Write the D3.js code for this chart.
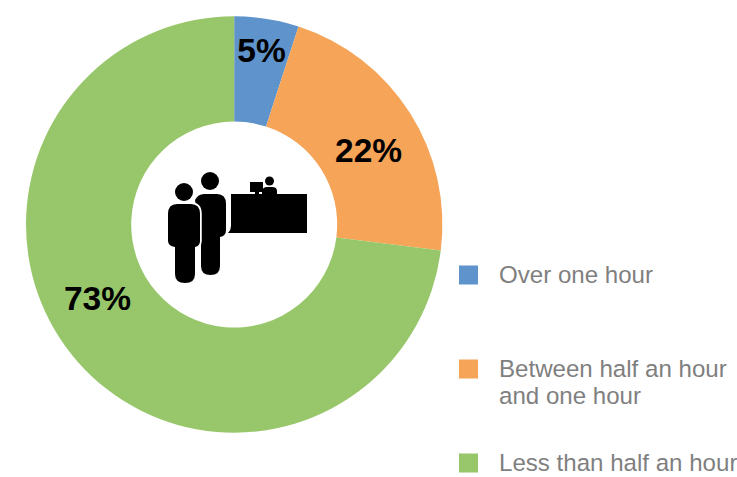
<!DOCTYPE html>
<html>
<head>
<meta charset="utf-8">
<script src="https://cdnjs.cloudflare.com/ajax/libs/d3/7.8.5/d3.min.js"></script>
<style>
html, body { margin: 0; padding: 0; background: #fff; }
svg { display: block; font-family: "Liberation Sans", Arial, sans-serif; }
</style>
</head>
<body>
<svg id="chart" width="737" height="477"></svg>
<script>
// Time spent waiting at the reception desk
const categories = ["Over one hour", "Between half an hour and one hour", "Less than half an hour"];
const legendLines = [["Over one hour"], ["Between half an hour", "and one hour"], ["Less than half an hour"]];
const shares = [5, 22, 73];
const colors = ["#5f93cb", "#f5a458", "#98c76b"];
const legendRows = [275, 369, 463];

const svg = d3.select("#chart");
const cx = 234.2, cy = 224.5, outerR = 208.2, innerR = 103;

const pie = d3.pie().sort(null).value(d => d)(shares);
const arc = d3.arc().innerRadius(innerR).outerRadius(outerR);

const ring = svg.append("g").attr("transform", `translate(${cx},${cy})`);
ring.selectAll("path").data(pie).join("path")
  .attr("d", arc)
  .attr("fill", (d, i) => colors[i]);

// Percentage labels start mid-ring, then shift to where each wedge has room
const labelShift = [[3, -21], [3, 9], [-20, -29]];
ring.selectAll("text").data(pie).join("text")
  .attr("transform", (d, i) => {
    const [x, y] = arc.centroid(d);
    return `translate(${x + labelShift[i][0]},${y + labelShift[i][1]})`;
  })
  .attr("text-anchor", "middle")
  .attr("dy", "0.36em")
  .attr("font-size", 33.5)
  .attr("font-weight", 700)
  .attr("fill", "#000")
  .text(d => d.data + "%");

// Legend
const legend = svg.append("g");
const row = legend.selectAll("g").data(categories).join("g")
  .attr("transform", (d, i) => `translate(0,${legendRows[i]})`);
row.append("rect")
  .attr("x", 459).attr("y", -9.5)
  .attr("width", 19).attr("height", 19)
  .attr("fill", (d, i) => colors[i]);
row.each(function (d, i) {
  d3.select(this).selectAll("text").data(legendLines[i]).join("text")
    .attr("x", 499)
    .attr("y", (l, j) => 8 + j * 27)
    .attr("font-size", 24.1)
    .attr("fill", "#7f7f7f")
    .text(l => l);
});

// Reception icon: two people queuing at a desk with a clerk and a monitor
const icon = svg.append("g").attr("fill", "#000");
icon.append("path")
  .attr("d", "M231 194H307V233H228Q231 230 231 226Z");
icon.append("rect").attr("x", 250).attr("y", 182).attr("width", 13).attr("height", 10);
icon.append("rect").attr("x", 255).attr("y", 192).attr("width", 4).attr("height", 2);
icon.append("circle").attr("cx", 269.5).attr("cy", 181).attr("r", 4.5);
icon.append("path").attr("d", "M262 194V191Q263 187 267 187H272Q277 187 277 191V194Z");
// back person
icon.append("circle").attr("cx", 210).attr("cy", 181).attr("r", 9);
icon.append("path")
  .attr("d", "M204 194H217Q226 194 226 204V230Q226 236 220 237V266Q220 275 210.5 275Q201 275 201 266V240L195 200Q198 194 204 194Z");
// front person, with a white halo separating it from the one behind
icon.append("path")
  .attr("d", "M177 204H191Q200 204 200 214V241Q200 246 195 247V274Q195 283 185 283Q175 283 175 274V247Q168 246 168 241V214Q168 204 177 204Z")
  .attr("stroke", "#fff").attr("stroke-width", 3.5).attr("paint-order", "stroke");
icon.append("circle").attr("cx", 184).attr("cy", 192).attr("r", 9);
</script>
</body>
</html>
